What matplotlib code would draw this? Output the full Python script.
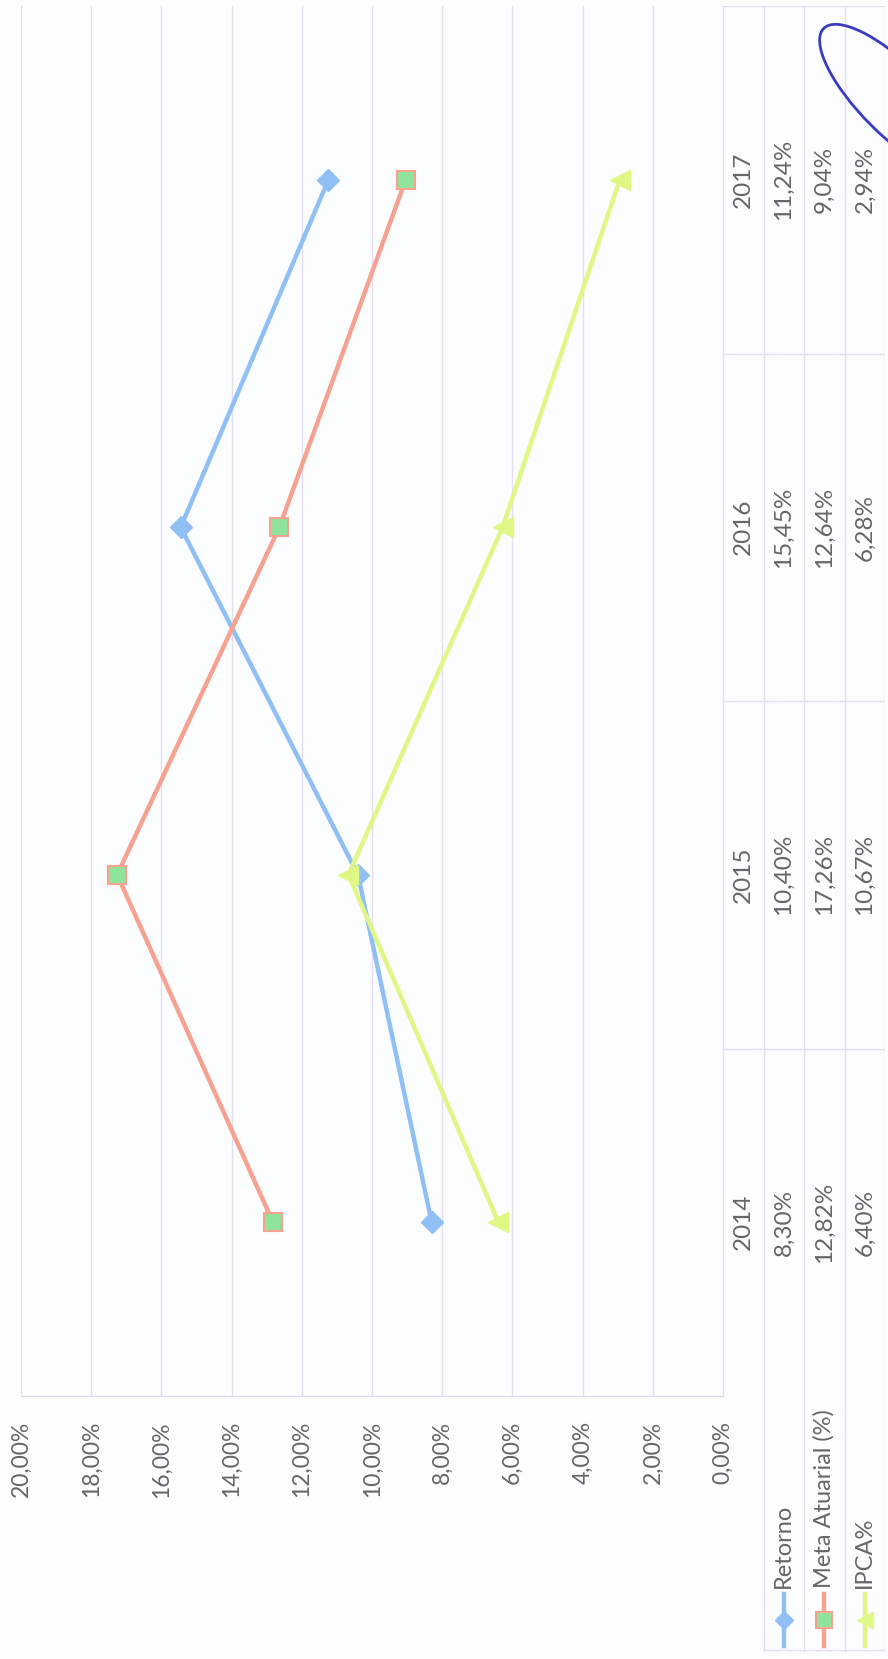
import matplotlib.pyplot as plt
from matplotlib.patches import Ellipse

# Data
anos = ["2014", "2015", "2016", "2017"]
retorno = [8.30, 10.40, 15.45, 11.24]
meta = [12.82, 17.26, 12.64, 9.04]
ipca = [6.40, 10.67, 6.28, 2.94]
series_names = ["Retorno", "Meta Atuarial (%)", "IPCA%"]
ticks = list(range(0, 21, 2))

def pct(v):
    return "{:.2f}%".format(v).replace(".", ",")

W, H = 888, 1659
grey = "#666666"
gridc = "#e4def0"
bg = "#fbfdff"
blue = "#8fbff5"
salmon = "#f7a291"
lime = "#dff784"
green_fill = "#8fe39a"

plt.rcParams["font.family"] = ["Lato", "DejaVu Sans"]

fig = plt.figure(figsize=(W / 100, H / 100), dpi=100, facecolor=bg)

def box(x0, y0, x1, y1):
    # pixel box (top-left origin) -> figure fraction rect
    return [x0 / W, 1 - y1 / H, (x1 - x0) / W, (y1 - y0) / H]

# main plot, rotated: value axis horizontal (20% left, 0% right), years bottom->top
ax = fig.add_axes(box(21, 6, 723, 1396))
ax.set_facecolor("none")
pos = list(range(len(anos)))
ax.plot(retorno, pos, color=blue, lw=3.2, marker="D", ms=11, mfc=blue, mec=blue, zorder=3)
ax.plot(meta, pos, color=salmon, lw=3.2, marker="s", ms=13, mfc=green_fill, mec=salmon, mew=1.5, zorder=3)
ax.plot(ipca, pos, color=lime, lw=3.2, marker="<", ms=14, mfc=lime, mec=lime, zorder=3)
ax.set_xlim(20, 0)
ax.set_ylim(-0.5, 3.5)
ax.set_xticks(ticks)
ax.set_xticklabels([pct(t) for t in ticks])
ax.set_yticks([])
ax.tick_params(axis="x", length=0, pad=18, labelrotation=90, labelcolor=grey, labelsize=16.5)
ax.grid(axis="x", color=gridc, lw=1)
for s in ["top", "left", "right"]:
    ax.spines[s].set_visible(False)
ax.spines["bottom"].set_color("#dcd6e6")
ax.spines["bottom"].set_linestyle((0, (2, 1)))

# data table beside the plot
tab = fig.add_axes(box(723, 6, 885, 1396))
tab.set_facecolor("none")
tab.set_xlim(0, 4)
tab.set_ylim(-0.5, 3.5)
tab.axis("off")
for xv in [0, 1, 2, 3, 4]:
    tab.axvline(xv, color=gridc, lw=1)
for yv in [0.5, 1.5, 2.5, 3.5]:
    tab.axhline(yv, color=gridc, lw=1)
cols = [anos, [pct(v) for v in retorno], [pct(v) for v in meta], [pct(v) for v in ipca]]
for ci, col in enumerate(cols):
    for ri, txt in enumerate(col):
        tab.text(ci + 0.5, ri, txt, rotation=90, ha="center", va="center",
                 color=grey, fontsize=17.5)

# legend keys under the table
leg = fig.add_axes(box(723, 1396, 885, 1652))
leg.set_facecolor("none")
leg.set_xlim(0, 4)
leg.set_ylim(1652, 1396)
leg.axis("off")
for xv in [1, 2, 3, 4]:
    leg.axvline(xv, color=gridc, lw=1)
leg.plot([1, 4], [1650, 1650], color=gridc, lw=1)
keys = [
    dict(color=blue, marker="D", ms=9, mfc=blue, mec=blue),
    dict(color=salmon, marker="s", ms=12, mfc=green_fill, mec=salmon, mew=1.5),
    dict(color=lime, marker="<", ms=11, mfc=lime, mec=lime),
]
for i, (name, k) in enumerate(zip(series_names, keys)):
    xc = i + 1.5
    leg.plot([xc, xc], [1594, 1646], lw=3.2, color=k["color"])
    leg.plot([xc], [1620], ls="none", **{kk: vv for kk, vv in k.items() if kk != "color"})
    leg.text(xc, 1588, name, rotation=90, ha="center", va="bottom", color=grey, fontsize=17)

# pen mark from the scan
fig.add_artist(Ellipse((895 / W, 1 - 100 / H), 165 / W, 85 / H, angle=-25,
                       transform=fig.transFigure, fill=False, ec="#3b3bc2", lw=2))

fig.savefig("out.png", dpi=100, facecolor=bg)
